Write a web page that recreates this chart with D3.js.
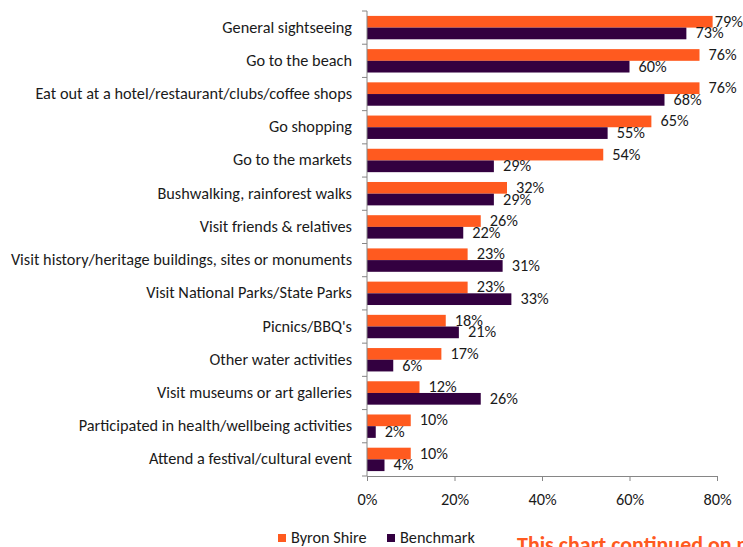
<!DOCTYPE html>
<html>
<head>
<meta charset="utf-8">
<script src="https://cdn.jsdelivr.net/npm/d3@7"></script>
<style>
  body { margin: 0; background: #fff; }
  svg { display: block; }
  text { font-family: Carlito, Lato, "Open Sans", sans-serif; fill: #1a1a1a; }
</style>
</head>
<body>
<svg id="chart" width="743" height="547"></svg>
<script>
// DATA
var categories = [
  "General sightseeing",
  "Go to the beach",
  "Eat out at a hotel/restaurant/clubs/coffee shops",
  "Go shopping",
  "Go to the markets",
  "Bushwalking, rainforest walks",
  "Visit friends & relatives",
  "Visit history/heritage buildings, sites or monuments",
  "Visit National Parks/State Parks",
  "Picnics/BBQ's",
  "Other water activities",
  "Visit museums or art galleries",
  "Participated in health/wellbeing activities",
  "Attend a festival/cultural event"
];
var byronShire = [79, 76, 76, 65, 54, 32, 26, 23, 23, 18, 17, 12, 10, 10];
var benchmark  = [73, 60, 68, 55, 29, 29, 22, 31, 33, 21, 6, 26, 2, 4];
var seriesNames = ["Byron Shire", "Benchmark"];
var xTicks = [0, 20, 40, 60, 80];

var colors = ["#ff5a1f", "#330040"];
var fontSize = 16.3;

// SVG PARAMETERS
var svg = d3.select("#chart"),
    width = +svg.attr("width"),
    height = +svg.attr("height");

var plotLeft = 367, plotRight = 717, plotTop = 11, plotBottom = 476;

var x = d3.scaleLinear().domain([0, 80]).range([plotLeft, plotRight]);
var y = d3.scaleBand().domain(categories).range([plotTop, plotBottom]);
var inner = d3.scaleBand().domain(seriesNames)
    .range([0, y.bandwidth()]).paddingOuter(0.42).paddingInner(0);

var rows = categories.map(function(c, i) {
  return { cat: c, vals: [byronShire[i], benchmark[i]] };
});

// BARS
var groups = svg.append("g").selectAll(".row")
  .data(rows).enter().append("g")
  .attr("class", "row")
  .attr("transform", function(d) { return "translate(0," + y(d.cat) + ")"; });

groups.selectAll("rect")
  .data(function(d) { return d.vals.map(function(v, j) { return { v: v, s: seriesNames[j], j: j }; }); })
  .enter().append("rect")
  .attr("x", x(0))
  .attr("y", function(d) { return inner(d.s); })
  .attr("width", function(d) { return x(d.v) - x(0); })
  .attr("height", inner.bandwidth())
  .attr("fill", function(d) { return colors[d.j]; });

groups.selectAll(".val")
  .data(function(d) { return d.vals.map(function(v, j) { return { v: v, s: seriesNames[j], j: j }; }); })
  .enter().append("text")
  .attr("class", "val")
  .attr("font-size", fontSize)
  .attr("y", function(d) { return inner(d.s) + inner.bandwidth() / 2 + 5; })
  .text(function(d) { return d.v + "%"; })
  .attr("x", function(d) {
    var w = this.getComputedTextLength();
    return Math.min(x(d.v) + 9, width - w);
  });

// Y AXIS
var yAxis = svg.append("g");
yAxis.append("line")
  .attr("x1", plotLeft).attr("x2", plotLeft)
  .attr("y1", plotTop).attr("y2", plotBottom)
  .attr("stroke", "#868686");
yAxis.selectAll(".ytick")
  .data(categories.concat(["_end"])).enter().append("line")
  .attr("x1", plotLeft - 5).attr("x2", plotLeft)
  .attr("y1", function(d, i) { return plotTop + i * y.step(); })
  .attr("y2", function(d, i) { return plotTop + i * y.step(); })
  .attr("stroke", "#868686");
yAxis.selectAll(".ylab")
  .data(categories).enter().append("text")
  .attr("x", 352)
  .attr("y", function(d) { return y(d) + y.bandwidth() / 2 + 5; })
  .attr("text-anchor", "end")
  .attr("font-size", fontSize)
  .text(function(d) { return d; });

// X AXIS
var xAxis = svg.append("g")
  .attr("transform", "translate(0," + plotBottom + ")")
  .call(d3.axisBottom(x).tickValues(xTicks).tickSize(5)
        .tickFormat(function(d) { return d + "%"; }));
xAxis.select(".domain").attr("stroke", "#868686");
xAxis.selectAll(".tick line").attr("stroke", "#868686");
xAxis.selectAll(".tick text")
  .attr("font-family", "Carlito, Lato, 'Open Sans', sans-serif")
  .attr("font-size", fontSize)
  .attr("fill", "#1a1a1a")
  .attr("dy", "0")
  .attr("y", 29);

// LEGEND
var legend = svg.append("g");
var legendX = [278, 387];
seriesNames.forEach(function(s, i) {
  legend.append("rect")
    .attr("x", legendX[i]).attr("y", 534)
    .attr("width", 8).attr("height", 8)
    .attr("fill", colors[i]);
  legend.append("text")
    .attr("x", legendX[i] + 13).attr("y", 543)
    .attr("font-size", fontSize)
    .text(s);
});

// NOTE
svg.append("text")
  .attr("x", 517).attr("y", 552)
  .attr("font-family", "'Liberation Sans', Arial, sans-serif")
  .attr("font-weight", "bold")
  .attr("font-size", 22)
  .style("fill", "#ff5a1f")
  .text("This chart continued on next page");
</script>
</body>
</html>
